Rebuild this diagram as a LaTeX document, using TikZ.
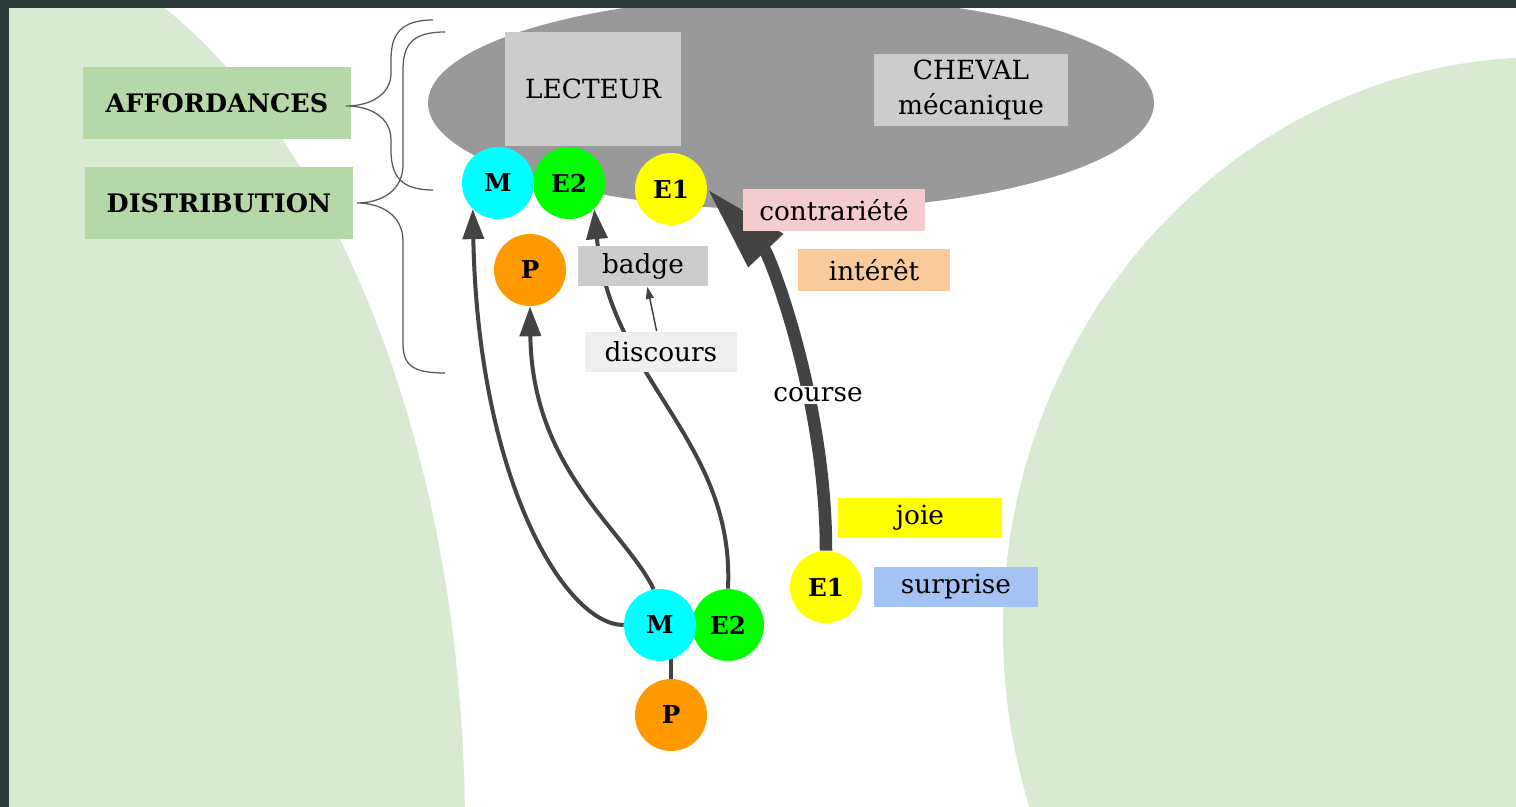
\documentclass[tikz,border=0pt]{standalone}
\usepackage{xcolor}
\usepackage{fontspec}
\setmainfont{DejaVu Serif}
\usepackage{tikz}
\usetikzlibrary{arrows.meta}
\definecolor{RideFrame}{HTML}{2B3D3B}
\definecolor{RideGreen}{HTML}{D9EAD3}
\definecolor{RideLabel}{HTML}{B6D7A8}
\definecolor{RideGrey}{HTML}{999999}
\definecolor{RideBox}{HTML}{CCCCCC}
\definecolor{RideDark}{HTML}{434343}
\definecolor{RideBrace}{HTML}{595959}
\definecolor{RideCyan}{HTML}{00FFFF}
\definecolor{RideLime}{HTML}{00FF00}
\definecolor{RideYellow}{HTML}{FFFF00}
\definecolor{RideOrange}{HTML}{FF9900}
\definecolor{RidePink}{HTML}{F4CCCC}
\definecolor{RidePeach}{HTML}{F9CB9C}
\definecolor{RideBlue}{HTML}{A4C2F4}
\definecolor{RidePale}{HTML}{EFEFEF}
\pgfdeclarelayer{back}
\pgfdeclarelayer{edges}
\pgfsetlayers{back,edges,main}

\begin{document}
\begin{tikzpicture}[x=0.02cm, y=-0.02cm, every node/.style={font=\fontsize{15}{20}\selectfont}]

    \tikzstyle{box}=[
      inner sep=0pt,
      align=center,
      minimum height=0.82cm
    ]
    \tikzstyle{tag}=[
      box,
      fill=RideLabel,
      font=\bfseries\fontsize{14.5}{17}\selectfont,
      minimum width=5.38cm,
      minimum height=1.45cm
    ]
    \tikzstyle{bulle}=[
      circle,
      inner sep=0pt,
      minimum size=1.44cm,
      font=\bfseries\fontsize{14}{16}\selectfont
    ]
    \tikzstyle{fleche}=[draw=RideDark, line width=0.08cm, -{Triangle[length=0.6cm, width=0.42cm]}]
    \tikzstyle{accolade}=[draw=RideBrace, line width=0.025cm]

    \useasboundingbox (0,0) rectangle (1516,807);

    % --- Background ---
    \begin{pgfonlayer}{back}
      \fill[white] (0,0) rectangle (1516,807);
      \begin{scope}
        \clip (0,0) rectangle (1516,807);
        \fill[RideGreen] (-50,830) ellipse [x radius=515, y radius=904];
        \fill[RideGreen] (1545,630) ellipse [x radius=542, y radius=573];
      \end{scope}
      \fill[RideGrey] (791,103) ellipse [x radius=363, y radius=107];
    \end{pgfonlayer}

    % --- Left labels ---
    \node[tag] (affordances) at (217,103) {AFFORDANCES};
    \node[tag] (distribution) at (219,203) {DISTRIBUTION};

    % --- Top: the ride ---
    \node[box, fill=RideBox, minimum width=3.54cm, minimum height=2.28cm] (lecteur) at (593,89) {LECTEUR};
    \node[box, fill=RideBox, minimum width=3.9cm, minimum height=1.46cm] (cheval) at (971,90) {CHEVAL\\mécanique};

    \node[bulle, fill=RideLime] (e2Haut) at (569,183) {E2};
    \node[bulle, fill=RideCyan] (mHaut) at (498,183) {M};
    \node[bulle, fill=RideYellow] (e1Haut) at (671,189) {E1};
    \node[bulle, fill=RideOrange] (pHaut) at (530,270) {P};

    \node[box, fill=RidePink, minimum width=3.66cm, minimum height=0.84cm] (contrariete) at (834,210) {contrariété};
    \node[box, fill=RidePeach, minimum width=3.04cm, minimum height=0.84cm] (interet) at (874,270) {intérêt};
    \node[box, fill=RideBox, minimum width=2.62cm] (badge) at (643,266) {badge};
    \node[box, fill=RidePale, minimum width=3.04cm] (discours) at (661,352) {discours};
    \node[fill=white, inner sep=1pt] (course) at (818,395) {course};

    % --- Bottom: the player ---
    \node[bulle, fill=RideLime] (e2Bas) at (728,625) {E2};
    \node[bulle, fill=RideCyan] (mBas) at (660,625) {M};
    \node[bulle, fill=RideOrange] (pBas) at (671,715) {P};
    \node[bulle, fill=RideYellow] (e1Bas) at (826,587) {E1};

    \node[box, fill=RideYellow, minimum width=3.3cm] (joie) at (920,518) {joie};
    \node[box, fill=RideBlue, minimum width=3.3cm] (surprise) at (956,587) {surprise};

    % --- Arrows ---
    \begin{pgfonlayer}{edges}
      \draw[fleche] (mBas.west) .. controls (565,625) and (478,480) .. (mHaut.-134);
      \draw[fleche] (mBas.100) .. controls (625,530) and (532,470) .. (pHaut.south);
      \draw[fleche] (e2Bas.north) .. controls (735,440) and (610,380) .. (e2Haut.-46);
      \draw[draw=RideDark, line width=0.25cm, -{Triangle[length=1.7cm, width=0.9cm]}]
        (e1Bas.north) .. controls (826,400) and (770,255) .. (e1Haut.east);
      \draw[draw=RideDark, line width=0.08cm] (pBas) -- (pBas |- mBas);
      \draw[draw=RideDark, line width=0.03cm, -{Triangle[length=0.24cm, width=0.16cm]}] (discours) -- (badge);
    \end{pgfonlayer}

    % --- Braces ---
    \draw[accolade] (433,20) .. controls (400,20) and (391,35) .. (391,60) -- (391,73)
      .. controls (391,95) and (370,106) .. (346,106)
      .. controls (370,106) and (391,117) .. (391,140) -- (391,150)
      .. controls (391,175) and (400,190) .. (433,190);
    \draw[accolade] (445,32) .. controls (412,32) and (403,45) .. (403,70) -- (403,165)
      .. controls (403,190) and (382,203) .. (357,203)
      .. controls (382,203) and (403,216) .. (403,241) -- (403,343)
      .. controls (403,365) and (412,373) .. (445,373);

    % --- Frame ---
    \fill[RideFrame] (0,0) rectangle (1516,8);
    \fill[RideFrame] (0,0) rectangle (9,807);

  \end{tikzpicture}
\end{document}
